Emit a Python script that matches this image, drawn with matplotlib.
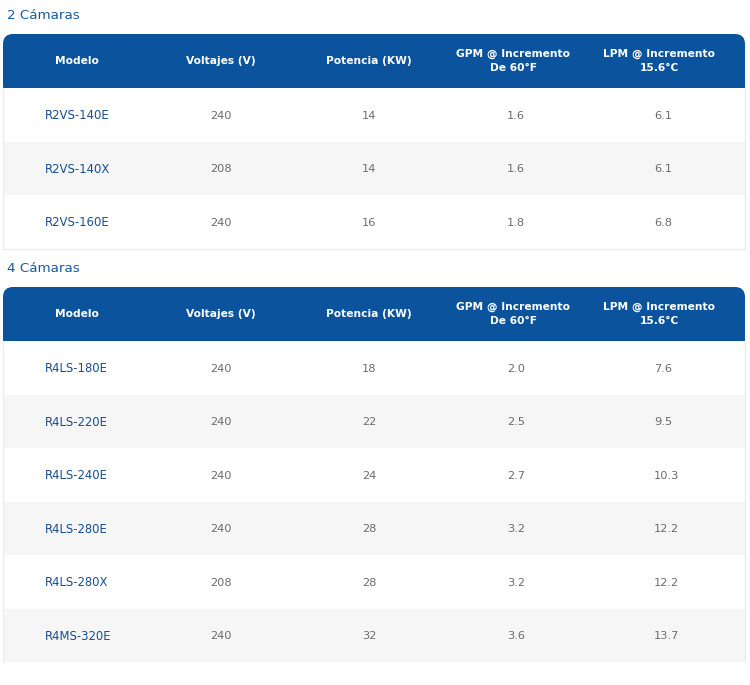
import matplotlib
matplotlib.use("Agg")
import matplotlib.pyplot as plt
from matplotlib.patches import FancyBboxPatch, Rectangle

plt.rcParams["font.family"] = ["DejaVu Sans"]

# ---- data ---------------------------------------------------------------
headers = ["Modelo", "Voltajes (V)", "Potencia (KW)",
           "GPM @ Incremento\nDe 60°F", "LPM @ Incremento\n15.6°C"]

title_2 = "2 Cámaras"
models_2 = ["R2VS-140E", "R2VS-140X", "R2VS-160E"]
volts_2 = ["240", "208", "240"]
power_2 = ["14", "14", "16"]
gpm_2 = ["1.6", "1.6", "1.8"]
lpm_2 = ["6.1", "6.1", "6.8"]

title_4 = "4 Cámaras"
models_4 = ["R4LS-180E", "R4LS-220E", "R4LS-240E", "R4LS-280E", "R4LS-280X", "R4MS-320E"]
volts_4 = ["240", "240", "240", "240", "208", "240"]
power_4 = ["18", "22", "24", "28", "28", "32"]
gpm_4 = ["2.0", "2.5", "2.7", "3.2", "3.2", "3.6"]
lpm_4 = ["7.6", "9.5", "10.3", "12.2", "12.2", "13.7"]

# ---- layout (pixels) ----------------------------------------------------
W, H = 750, 685
LEFT, RIGHT = 3, 745
HEAD_H = 54
ROW_H = 53.5
HEAD_X = [77, 221, 369, 513, 659]     # header centres
CELL_X = [45, 210, 362, 507, 654]     # body text left edges
BLUE = "#0b539c"
MODEL_BLUE = "#184d90"
GREY_TXT = "#6b6b6b"
STRIPE = "#f6f6f6"
BORDER = "#ececec"

fig = plt.figure(figsize=(W / 100, H / 100), dpi=100)
ax = fig.add_axes([0, 0, 1, 1])
ax.set_xlim(0, W)
ax.set_ylim(H, 0)
ax.axis("off")


def draw_table(title, title_y, top, cols):
    ax.text(7, title_y, title, color="#1a5aa0", fontsize=9.7,
            ha="left", va="center")
    # header: rounded top corners only
    ax.add_patch(FancyBboxPatch((LEFT, top), RIGHT - LEFT, HEAD_H,
                                boxstyle="round,pad=0,rounding_size=10",
                                facecolor=BLUE, edgecolor="none"))
    ax.add_patch(Rectangle((LEFT, top + HEAD_H / 2), RIGHT - LEFT, HEAD_H / 2,
                           facecolor=BLUE, edgecolor="none"))
    for x, h in zip(HEAD_X, headers):
        ax.text(x, top + HEAD_H / 2, h, color="white", fontsize=7.7,
                fontweight="bold", ha="center", va="center", linespacing=1.55)
    n = len(cols[0])
    body_top = top + HEAD_H
    for i in range(n):
        y0 = body_top + i * ROW_H
        if i % 2 == 1:
            ax.add_patch(Rectangle((LEFT, y0), RIGHT - LEFT, ROW_H,
                                   facecolor=STRIPE, edgecolor="none"))
        for j, (x, col) in enumerate(zip(CELL_X, cols)):
            ax.text(x, y0 + ROW_H / 2 + 1, col[i],
                    color=MODEL_BLUE if j == 0 else GREY_TXT,
                    fontsize=8.4 if j == 0 else 8.2,
                    ha="left", va="center")
    bottom = body_top + n * ROW_H
    ax.plot([LEFT, LEFT], [body_top, bottom], color=BORDER, lw=1)
    ax.plot([RIGHT, RIGHT], [body_top, bottom], color=BORDER, lw=1)
    if n % 2 == 1:
        ax.plot([LEFT, RIGHT], [bottom, bottom], color=BORDER, lw=1)


draw_table(title_2, 15, 34, [models_2, volts_2, power_2, gpm_2, lpm_2])
draw_table(title_4, 268, 287, [models_4, volts_4, power_4, gpm_4, lpm_4])

fig.savefig("out.png", dpi=100)
